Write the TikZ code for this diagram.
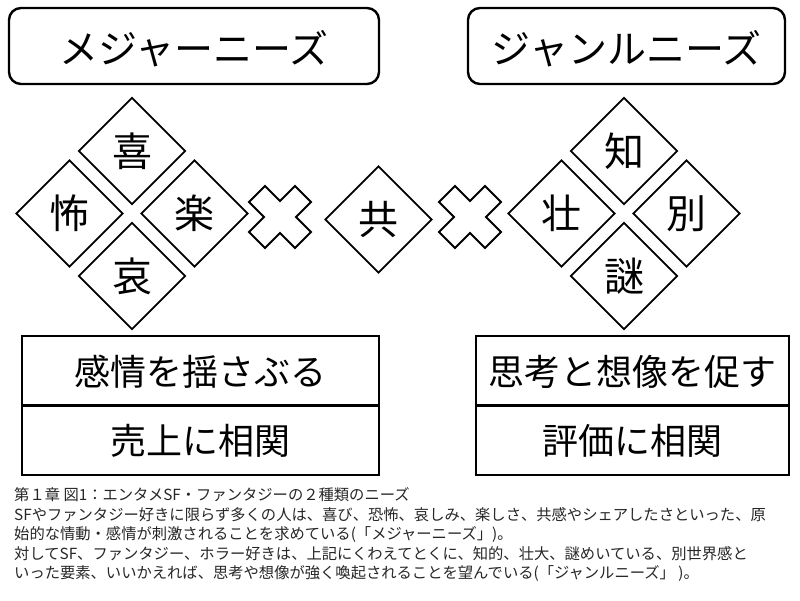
\documentclass[tikz,border=0pt]{standalone}
\usepackage{fontspec}
\setmainfont{Noto Sans CJK JP}
\usetikzlibrary{matrix,shapes.geometric}

\tikzset{
  need/.style={draw, rounded corners=12pt, line width=2.4pt, minimum height=76pt, inner sep=0pt, text height=35.6pt, text depth=0pt, font=\fontsize{39}{47}\selectfont},
  petal/.style={draw, diamond, aspect=1, minimum size=107pt, inner sep=0pt, line width=1.8pt, font=\fontsize{40}{48}\selectfont},
  crossmark/.style={line width=1.8pt},
  effect/.style={matrix of nodes, line width=2.4pt, row sep=-\pgflinewidth, nodes={draw, anchor=center, inner sep=0pt, minimum height=69.5pt, text height=29.2pt, text depth=0pt, font=\fontsize{36}{43}\selectfont}},
}

\begin{document}
\begin{tikzpicture}[x=1pt, y=1pt]
\useasboundingbox (0,0) rectangle (800,600);

\node[need, minimum width=370pt] (major) at (194,554) {メジャーニーズ};
\node[need, minimum width=317pt] (genre) at (626.5,554) {ジャンルニーズ};

% emotions
\coordinate (L) at (132,386.5);
\node[petal] (ki) at ([yshift=62.5pt]L) {喜};
\node[petal] (fu) at ([xshift=-62.5pt]L) {怖};
\node[petal] (raku) at ([xshift=62.5pt]L) {楽};
\node[petal] (ai) at ([yshift=-62.5pt]L) {哀};

\node[petal] (kyou) at (378.5,380.5) {共};

% intellect
\coordinate (R) at (624,386.5);
\node[petal] (chi) at ([yshift=62.5pt]R) {知};
\node[petal] (sou) at ([xshift=-62.5pt]R) {壮};
\node[petal] (betsu) at ([xshift=62.5pt]R) {別};
\node[petal] (mei) at ([yshift=-62.5pt]R) {謎};

\coordinate (x1) at (280,383);
\coordinate (x2) at (470,383);
\draw[crossmark, shift={(x1)}] (0,16) -- (15,31) -- (31,15) -- (16,0) -- (31,-15) -- (15,-31) -- (0,-16) -- (-15,-31) -- (-31,-15) -- (-16,0) -- (-31,15) -- (-15,31) -- cycle;
\draw[crossmark, shift={(x2)}] (0,16) -- (15,31) -- (31,15) -- (16,0) -- (31,-15) -- (15,-31) -- (0,-16) -- (-15,-31) -- (-31,-15) -- (-16,0) -- (-31,15) -- (-15,31) -- cycle;

\matrix (ML)[effect, nodes={minimum width=357pt}] at (200.5,194.5) {
感情を揺さぶる \\
売上に相関 \\
};
\matrix (MR)[effect, nodes={minimum width=313pt}] at (632.5,194.5) {
思考と想像を促す \\
評価に相関 \\
};

\node[anchor=north west, align=left, inner sep=0pt, text=black!85, font=\fontsize{15.3}{19.5}\selectfont] (cap) at (14,112.5) {%
第１章 図1：エンタメSF・ファンタジーの２種類のニーズ\\
SFやファンタジー好きに限らず多くの人は、喜び、恐怖、哀しみ、楽しさ、共感やシェアしたさといった、原\\
始的な情動・感情が刺激されることを求めている(「メジャーニーズ」)。\\
対してSF、ファンタジー、ホラー好きは、上記にくわえてとくに、知的、壮大、謎めいている、別世界感と\\
いった要素、いいかえれば、思考や想像が強く喚起されることを望んでいる(「ジャンルニーズ」 )。};
\end{tikzpicture}
\end{document}
